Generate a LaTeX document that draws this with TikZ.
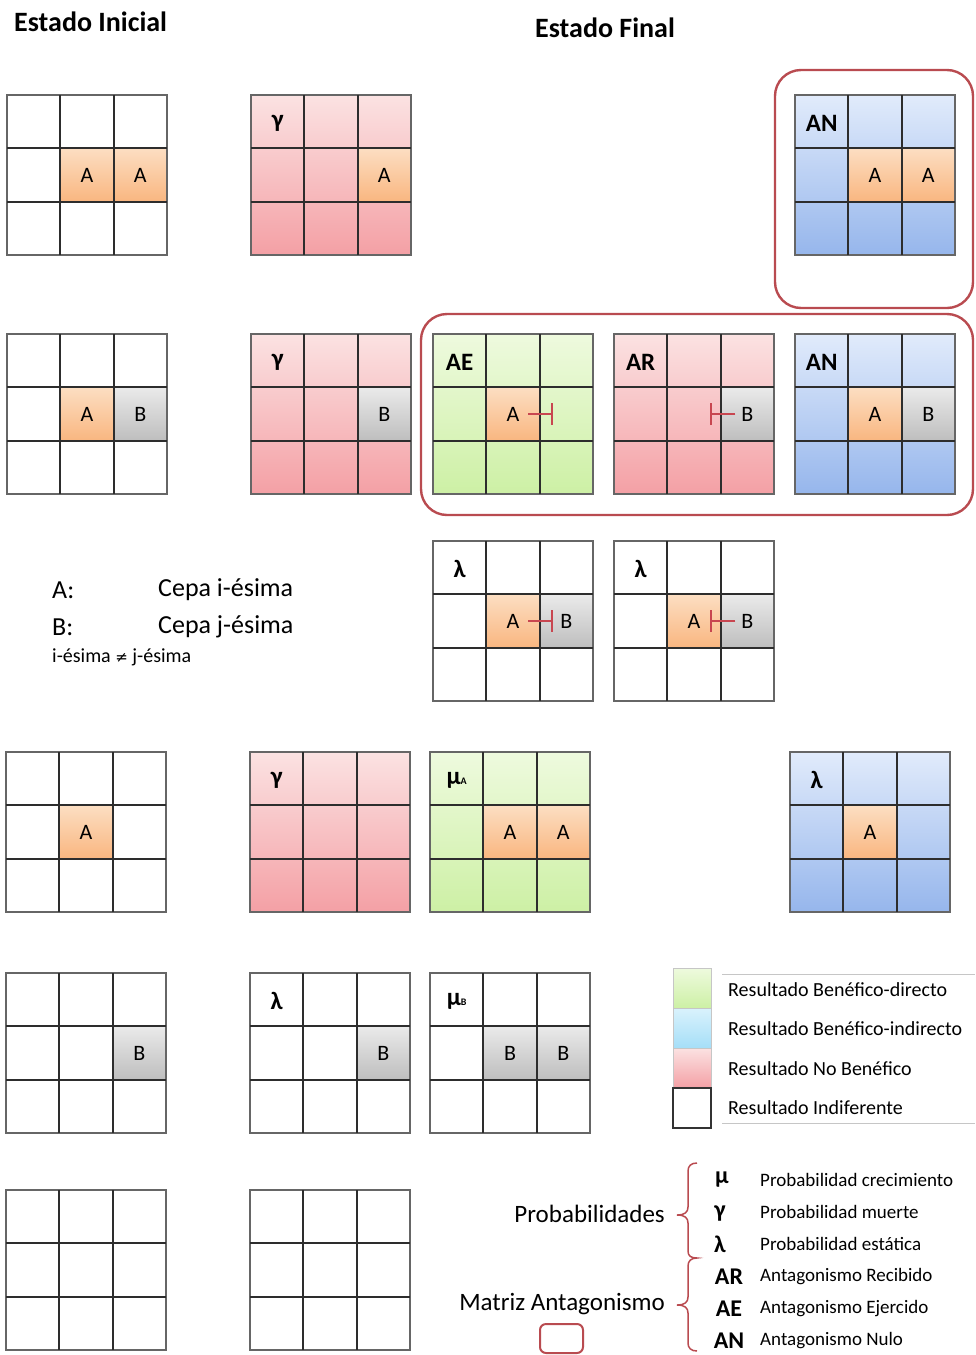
\documentclass[tikz,border=0pt]{standalone}
\usepackage{fontspec}
\setmainfont{Carlito}
\newfontfamily\symfont{DejaVu Sans}
\usetikzlibrary{calc,arrows.meta}
\definecolor{redtop}{RGB}{251,226,226}
\definecolor{redbot}{RGB}{244,160,165}
\definecolor{greentop}{RGB}{238,250,222}
\definecolor{greenbot}{RGB}{205,240,165}
\definecolor{bluetop}{RGB}{225,235,251}
\definecolor{bluebot}{RGB}{150,182,236}
\definecolor{orangetop}{RGB}{252,222,194}
\definecolor{orangebot}{RGB}{249,182,128}
\definecolor{graytop}{RGB}{234,234,234}
\definecolor{graybot}{RGB}{190,190,190}
\definecolor{cyantop}{RGB}{218,242,252}
\definecolor{cyanbot}{RGB}{165,222,248}
\definecolor{brred}{RGB}{185,75,80}
\definecolor{inhred}{RGB}{200,70,80}
\definecolor{gline}{RGB}{45,45,45}
\tikzset{
  gridbg/.style={anchor=north west, minimum width=160pt, minimum height=160pt, inner sep=0pt, outer sep=0pt},
  redg/.style={top color=redtop, bottom color=redbot},
  greeng/.style={top color=greentop, bottom color=greenbot},
  blueg/.style={top color=bluetop, bottom color=bluebot},
  whiteg/.style={fill=white},
  cellbox/.style={minimum width=53.33pt, minimum height=53.33pt, inner sep=0pt, outer sep=0pt, font=\fontsize{22}{22}\selectfont},
  cA/.style={top color=orangetop, bottom color=orangebot},
  cB/.style={top color=graytop, bottom color=graybot},
  gridin/.style={draw=gline, line width=2pt},
  gridout/.style={draw=black!60, line width=1.4pt},
  corner/.style={font=\bfseries\fontsize{25}{25}\selectfont, inner sep=0pt},
  inhib/.style={draw=inhred, line width=1.8pt, -{Bar[width=22pt,line width=1.8pt]}},
  groupbox/.style={draw=brred, line width=2.4pt, rounded corners=26pt},
  title/.style={font=\bfseries\fontsize{28}{28}\selectfont, inner sep=0pt},
  bodytext/.style={font=\fontsize{26}{26}\selectfont, inner sep=0pt, anchor=west},
  legtext/.style={font=\fontsize{20}{20}\selectfont, inner sep=0pt, anchor=west},
  symtext/.style={font=\bfseries\fontsize{24}{24}\selectfont, inner sep=0pt},
  desctext/.style={font=\fontsize{19}{19}\selectfont, inner sep=0pt, anchor=west},
  swatch/.style={minimum width=38pt, minimum height=40pt, inner sep=0pt, outer sep=0pt, draw=gray!45, line width=1pt},
}
\newcommand{\mkgrid}[4]{\node[gridbg,#4] (#1) at (#2,#3) {};}
\newcommand{\mkcell}[5]{\node[cellbox,#4] (#1-#2#3) at ($(#1.north west)+({(#2-0.5)*160/3},{(#3-0.5)*160/3})$) {#5};}
\newcommand{\mklines}[1]{%
  \draw[gridout] (#1.north west) rectangle (#1.south east);
  \draw[gridin] ($(#1.north west)!1/3!(#1.north east)$) -- ($(#1.south west)!1/3!(#1.south east)$);
  \draw[gridin] ($(#1.north west)!2/3!(#1.north east)$) -- ($(#1.south west)!2/3!(#1.south east)$);
  \draw[gridin] ($(#1.north west)!1/3!(#1.south west)$) -- ($(#1.north east)!1/3!(#1.south east)$);
  \draw[gridin] ($(#1.north west)!2/3!(#1.south west)$) -- ($(#1.north east)!2/3!(#1.south east)$);}
\newcommand{\mklabel}[2]{\node[corner] (#1-lab) at ($(#1.north west)+(80/3,84/3)$) {#2};}
\begin{document}
\begin{tikzpicture}[x=1pt,y=-1pt]
\useasboundingbox (0,0) rectangle (975,1355);
% titles
\node[title, anchor=west] (t1) at (14,22) {Estado Inicial};
\node[title] (t2) at (605,28) {Estado Final};
% group boxes
\draw[groupbox] (775,70) rectangle (973,308);
\draw[groupbox] (421,314) rectangle (973,515);
% ---------- row 1
\mkgrid{i1}{7}{95}{whiteg}
\mkcell{i1}{2}{2}{cA}{A}\mkcell{i1}{3}{2}{cA}{A}
\mklines{i1}
\mkgrid{g1}{251}{95}{redg}
\mkcell{g1}{3}{2}{cA}{A}
\mklines{g1}\mklabel{g1}{γ}
\mkgrid{n1}{795}{95}{blueg}
\mkcell{n1}{2}{2}{cA}{A}\mkcell{n1}{3}{2}{cA}{A}
\mklines{n1}\mklabel{n1}{AN}
% ---------- row 2
\mkgrid{i2}{7}{334}{whiteg}
\mkcell{i2}{2}{2}{cA}{A}\mkcell{i2}{3}{2}{cB}{B}
\mklines{i2}
\mkgrid{g2}{251}{334}{redg}
\mkcell{g2}{3}{2}{cB}{B}
\mklines{g2}\mklabel{g2}{γ}
\mkgrid{ae}{433}{334}{greeng}
\mkcell{ae}{2}{2}{cA}{A}
\mklines{ae}\mklabel{ae}{AE}
\draw[inhib] ($(ae-22)+(15,0)$) -- ++(25,0);
\mkgrid{ar}{614}{334}{redg}
\mkcell{ar}{3}{2}{cB}{B}
\mklines{ar}\mklabel{ar}{AR}
\draw[inhib] ($(ar-32)+(-12,0)$) -- ++(-25,0);
\mkgrid{n2}{795}{334}{blueg}
\mkcell{n2}{2}{2}{cA}{A}\mkcell{n2}{3}{2}{cB}{B}
\mklines{n2}\mklabel{n2}{AN}
% ---------- row 3
\node[bodytext] (la) at (52,590) {A:};
\node[bodytext] (lat) at (158,590) {Cepa i-ésima};
\node[bodytext] (lb) at (52,627) {B:};
\node[bodytext] (lbt) at (158,627) {Cepa j-ésima};
\node[legtext] (lneq) at (52,657) {i-ésima {\symfont\fontsize{15}{15}\selectfont ≠} j-ésima};
\mkgrid{l1}{433}{541}{whiteg}
\mkcell{l1}{2}{2}{cA}{A}\mkcell{l1}{3}{2}{cB}{B}
\mklines{l1}\mklabel{l1}{λ}
\draw[inhib] ($(l1-22)+(15,0)$) -- ++(25,0);
\mkgrid{l2}{614}{541}{whiteg}
\mkcell{l2}{2}{2}{cA}{A}\mkcell{l2}{3}{2}{cB}{B}
\mklines{l2}\mklabel{l2}{λ}
\draw[inhib] ($(l2-32)+(-12,0)$) -- ++(-25,0);
% ---------- row 4
\mkgrid{i4}{6}{752}{whiteg}
\mkcell{i4}{2}{2}{cA}{A}
\mklines{i4}
\mkgrid{g4}{250}{752}{redg}
\mklines{g4}\mklabel{g4}{γ}
\mkgrid{ma}{430}{752}{greeng}
\mkcell{ma}{2}{2}{cA}{A}\mkcell{ma}{3}{2}{cA}{A}
\mklines{ma}\mklabel{ma}{μ\fontsize{10}{10}\selectfont A}
\mkgrid{b4}{790}{752}{blueg}
\mkcell{b4}{2}{2}{cA}{A}
\mklines{b4}\mklabel{b4}{λ}
% ---------- row 5
\mkgrid{i5}{6}{973}{whiteg}
\mkcell{i5}{3}{2}{cB}{B}
\mklines{i5}
\mkgrid{w5}{250}{973}{whiteg}
\mkcell{w5}{3}{2}{cB}{B}
\mklines{w5}\mklabel{w5}{λ}
\mkgrid{mb}{430}{973}{whiteg}
\mkcell{mb}{2}{2}{cB}{B}\mkcell{mb}{3}{2}{cB}{B}
\mklines{mb}\mklabel{mb}{μ\fontsize{10}{10}\selectfont B}
% ---------- row 6
\mkgrid{i6}{6}{1190}{whiteg}
\mklines{i6}
\mkgrid{w6}{250}{1190}{whiteg}
\mklines{w6}
% ---------- colour legend
\node[swatch, anchor=north west, top color=greentop, bottom color=greenbot] (sw1) at (673,968) {};
\node[swatch, anchor=north, top color=cyantop, bottom color=cyanbot] (sw2) at (sw1.south) {};
\node[swatch, anchor=north, top color=redtop, bottom color=redbot] (sw3) at (sw2.south) {};
\node[swatch, anchor=north, fill=white, draw=black!80, line width=1.3pt] (sw4) at (sw3.south) {};
\coordinate (lt1) at (722,974);
\coordinate (lt2) at (975,974);
\coordinate (lb1) at (722,1123);
\coordinate (lb2) at (975,1123);
\draw[gray!45, line width=1pt] (lt1) -- (lt2);
\draw[gray!45, line width=1pt] (lb1) -- (lb2);
\node[legtext] (lg1) at (728,990) {Resultado Benéfico-directo};
\node[legtext] (lg2) at (728,1029) {Resultado Benéfico-indirecto};
\node[legtext] (lg3) at (728,1069) {Resultado No Benéfico};
\node[legtext] (lg4) at (728,1108) {Resultado Indiferente};
% ---------- symbol legend
\node[bodytext, font=\fontsize{25}{25}\selectfont, anchor=east] (prob) at (665,1214) {Probabilidades};
\node[bodytext, font=\fontsize{25}{25}\selectfont, anchor=east] (matr) at (665,1304) {Matriz Antagonismo};
\draw[draw=brred, line width=2pt, rounded corners=6pt] (540,1324) rectangle (583,1353);
\draw[draw=brred, line width=1.5pt]
  (697,1163) .. controls (691,1163) and (688,1166) .. (688,1171) -- (688,1207)
  .. controls (688,1212) and (685,1215) .. (677,1215)
  .. controls (685,1215) and (688,1218) .. (688,1223) -- (688,1251)
  .. controls (688,1256) and (691,1258) .. (697,1258)
  .. controls (691,1258) and (688,1261) .. (688,1266) -- (688,1297)
  .. controls (688,1302) and (685,1305) .. (677,1305)
  .. controls (685,1305) and (688,1308) .. (688,1313) -- (688,1343)
  .. controls (688,1348) and (691,1351) .. (697,1351);
\node[symtext] (s1) at (722,1180) {μ};
\node[symtext] (s2) at (720,1213) {γ};
\node[symtext] (s3) at (720,1244) {λ};
\node[symtext] (s4) at (729,1277) {AR};
\node[symtext] (s5) at (729,1309) {AE};
\node[symtext] (s6) at (729,1341) {AN};
\node[desctext] (d1) at (760,1180) {Probabilidad crecimiento};
\node[desctext] (d2) at (760,1212) {Probabilidad muerte};
\node[desctext] (d3) at (760,1244) {Probabilidad estática};
\node[desctext] (d4) at (760,1277) {Antagonismo Recibido};
\node[desctext] (d5) at (760,1309) {Antagonismo Ejercido};
\node[desctext] (d6) at (760,1341) {Antagonismo Nulo};
\end{tikzpicture}
\end{document}
